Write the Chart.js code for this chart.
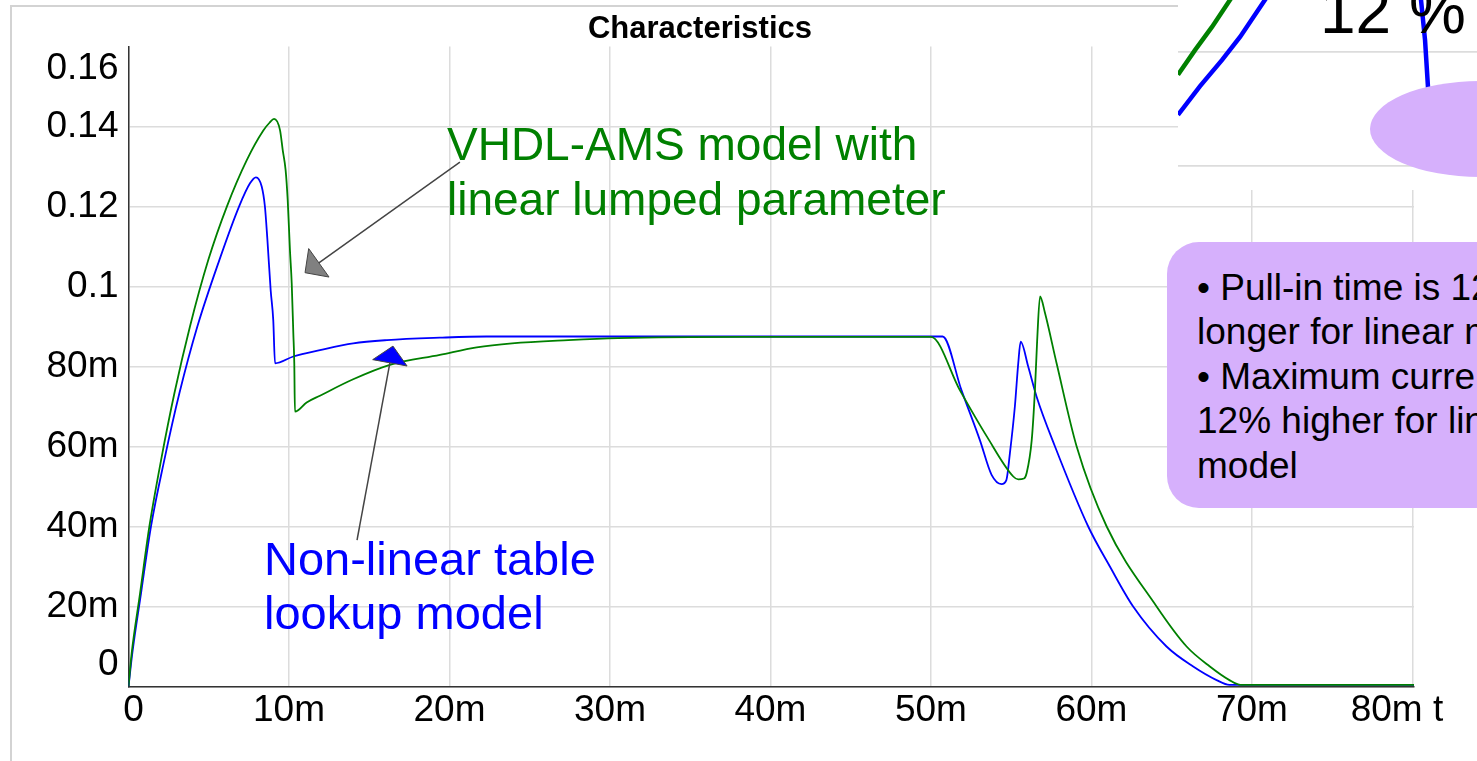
<!DOCTYPE html>
<html>
<head>
<meta charset="utf-8">
<script src="https://cdn.jsdelivr.net/npm/chart.js@4.4.1/dist/chart.umd.min.js"></script>
<style>
  body { margin: 0; width: 1477px; height: 761px; overflow: hidden; background: #fff; position: relative;
         font-family: 'Liberation Sans', Arial, sans-serif; }
  .abs { position: absolute; }
  #frame { left: 10px; top: 5px; width: 1500px; height: 800px; border-left: 2px solid #d3d3d3; border-top: 2px solid #d3d3d3; }
  #main { left: 0; top: 0; }
  #title { left: 0; width: 1400px; top: 12px; text-align: center; font-weight: bold; font-size: 31px; line-height: 31px; color: #000; }
  #greenNote { left: 447px; top: 117px; font-size: 46px; line-height: 55px; color: #008000; white-space: nowrap; }
  #blueNote { left: 264px; top: 532px; font-size: 47px; line-height: 54px; color: #0000ff; white-space: nowrap; }
  #summary { left: 1167px; top: 242px; width: 420px; height: 266px; border-radius: 32px; background: #d6b0fc;
             box-sizing: border-box; padding: 24px 0 0 30px; font-size: 37px; line-height: 44.4px; color: #000; white-space: nowrap; }
  #insetBox { left: 1178px; top: 0; width: 299px; height: 190px; background: #fff; }
  #bigPct { left: 1320px; top: -21px; font-size: 64px; line-height: 64px; color: #000; white-space: nowrap; }
  #blob { left: 1370px; top: 81px; width: 220px; height: 96px; border-radius: 50%; background: #d6b0fc; }
</style>
</head>
<body>
<div id="frame" class="abs"></div>
<canvas id="main" class="abs" width="1477" height="761"></canvas>
<div id="title" class="abs">Characteristics</div>
<div id="greenNote" class="abs">VHDL-AMS model with<br>linear lumped parameter</div>
<div id="blueNote" class="abs">Non-linear table<br>lookup model</div>
<div id="summary" class="abs">• Pull-in time is 12%<br>longer for linear model<br>• Maximum current is<br>12% higher for linear<br>model</div>
<div id="insetBox" class="abs"><canvas id="inset" width="299" height="190"></canvas></div>
<div id="bigPct" class="abs">12 %</div>
<div id="blob" class="abs"></div>

<script>
// time in ms, current in A

// VHDL-AMS model, linear lumped parameter (green)
const greenT = [0, 0.2, 0.72, 1.30, 2.03, 2.86, 3.83, 4.97, 6.14, 7.37,
  8.4, 8.8, 9.07, 9.44, 9.61, 9.79, 9.92, 10.06, 10.17, 10.27,
  10.33, 10.37, 11.1, 11.93, 14.0, 16.29, 19.4, 21.7, 23.9, 27.4,
  30.5, 38.4, 50.0, 51.8, 53.5, 55.13, 55.44, 55.8, 55.96, 56.28,
  56.48, 56.62, 56.8, 57.1, 57.83, 59.08, 60.95, 64.06, 65.93, 67.38,
  68.6, 69.3, 80.1];
const greenI = [0, 0.0084, 0.0233, 0.040, 0.0566, 0.0733, 0.090, 0.1066, 0.1201, 0.1316,
  0.1390, 0.1410, 0.1419, 0.1391, 0.1341, 0.1291, 0.1216, 0.1091, 0.1008, 0.0883,
  0.0808, 0.0687, 0.0710, 0.0727, 0.0768, 0.0804, 0.0829, 0.0848, 0.0858, 0.0866,
  0.0871, 0.0874, 0.0874, 0.0741, 0.0624, 0.0525, 0.0518, 0.0520, 0.0533, 0.0616,
  0.0741, 0.0866, 0.0975, 0.0935, 0.0808, 0.060, 0.040, 0.020, 0.010, 0.005,
  0.0016, 0.0004, 0.0004];

// Non-linear table lookup model (blue)
const blueT = [0, 0.24, 0.78, 1.40, 2.23, 3.17, 4.29, 5.66, 6.90, 7.57,
  7.94, 8.3, 8.5, 8.65, 8.86, 9.02, 9.13, 10.27, 11.93, 14.0,
  16.1, 19.4, 22.3, 50.73, 51.9, 53.05, 53.78, 54.4, 54.7, 54.92,
  55.23, 55.44, 55.59, 56.06, 56.58, 57.73, 59.80, 61.15, 62.6, 64.68,
  66.34, 67.8, 68.6, 80.1];
const blueI = [0, 0.0084, 0.0233, 0.040, 0.0566, 0.0733, 0.090, 0.1066, 0.1201, 0.1258,
  0.1273, 0.1250, 0.1200, 0.1120, 0.0990, 0.0916, 0.0808, 0.0825, 0.0841, 0.0858,
  0.0866, 0.0872, 0.0875, 0.0875, 0.0741, 0.0616, 0.0529, 0.0506, 0.0516, 0.0583,
  0.070, 0.0808, 0.0862, 0.080, 0.0725, 0.060, 0.040, 0.030, 0.020, 0.010,
  0.005, 0.0016, 0.0004, 0.0004];

const timeTicks = [0, 10, 20, 30, 40, 50, 60, 70, 80];

// zoomed inset near the first peak (top right corner)
const insetGreenT = [6.9, 6.991, 7.082, 7.178, 7.232];
const insetGreenI = [0.12750, 0.12804, 0.12855, 0.12914, 0.12945];
const insetBlueT = [6.9, 7.018, 7.135, 7.232, 7.365, 7.419, 8.195, 8.222, 8.238, 8.245];
const insetBlueI = [0.12662, 0.12725, 0.12782, 0.12833, 0.12914, 0.12947, 0.12936, 0.12826, 0.12721, 0.12607];
const insetGridI = [0.1255, 0.128];

// callout arrows: tail and tip in (ms, A)
const calloutArrows = [
  { fromT: 20.65, fromI: 0.1311, toT: 11.0, toI: 0.10345, fill: '#808080' },
  { fromT: 14.24, fromI: 0.0366, toT: 16.48, toI: 0.0851, fill: '#0000ff' }
];

Chart.defaults.font.family = "'Liberation Sans', Arial, sans-serif";
Chart.defaults.color = '#000';

const toPoints = (ts, vs) => ts.map((t, i) => ({ x: t, y: vs[i] }));

function formatCurrent(value) {
  const m = Math.round(value * 1000);
  if (m === 0) return ['0', ''];
  if (m === 160) return ['', '0.16'];
  if (m >= 100) return String(m / 1000);
  return m + 'm';
}

function formatTime(value) {
  if (value === 0) return ' 0';
  if (value === 80) return '80m t   ';
  return value + 'm';
}

const arrowPlugin = {
  id: 'callouts',
  afterDatasetsDraw(chart) {
    const { ctx, scales: { x, y } } = chart;
    calloutArrows.forEach(a => {
      const x0 = x.getPixelForValue(a.fromT), y0 = y.getPixelForValue(a.fromI);
      const x1 = x.getPixelForValue(a.toT), y1 = y.getPixelForValue(a.toI);
      const ang = Math.atan2(y1 - y0, x1 - x0);
      const len = 17, half = 17.5;
      const bx = x1 - len * Math.cos(ang), by = y1 - len * Math.sin(ang);
      ctx.save();
      ctx.strokeStyle = '#444';
      ctx.lineWidth = 1.5;
      ctx.beginPath();
      ctx.moveTo(x0, y0);
      ctx.lineTo(bx, by);
      ctx.stroke();
      ctx.beginPath();
      ctx.moveTo(x1, y1);
      ctx.lineTo(bx + half * Math.sin(ang), by - half * Math.cos(ang));
      ctx.lineTo(bx - half * Math.sin(ang), by + half * Math.cos(ang));
      ctx.closePath();
      ctx.fillStyle = a.fill;
      ctx.fill();
      ctx.lineWidth = 1;
      ctx.stroke();
      ctx.restore();
    });
  }
};

new Chart(document.getElementById('main'), {
  type: 'line',
  data: {
    datasets: [
      {
        label: 'VHDL-AMS model with linear lumped parameter',
        data: toPoints(greenT, greenI),
        borderColor: '#008000',
        borderWidth: 1.8,
        pointRadius: 0,
        cubicInterpolationMode: 'monotone'
      },
      {
        label: 'Non-linear table lookup model',
        data: toPoints(blueT, blueI),
        borderColor: '#0000ff',
        borderWidth: 1.8,
        pointRadius: 0,
        cubicInterpolationMode: 'monotone'
      }
    ]
  },
  options: {
    responsive: false,
    animation: false,
    layout: { padding: { left: 0, top: 46.5, right: 63, bottom: 0 } },
    plugins: { legend: { display: false }, tooltip: { enabled: false } },
    scales: {
      x: {
        type: 'linear',
        min: 0,
        max: 80.1,
        afterBuildTicks: s => { s.ticks = timeTicks.map(v => ({ value: v })); },
        afterFit: s => { s.height = 74.5; },
        ticks: {
          autoSkip: false,
          maxRotation: 0,
          padding: 2,
          font: { size: 37 },
          callback: formatTime
        },
        grid: { color: '#dcdcdc', lineWidth: 1.5, drawTicks: false },
        border: { color: '#333', width: 1.5 }
      },
      y: {
        min: 0,
        max: 0.16,
        afterFit: s => { s.width = 128.5; s.paddingTop = 0; s.paddingBottom = 0; },
        ticks: {
          stepSize: 0.02,
          autoSkip: false,
          padding: 10,
          font: { size: 37 },
          callback: formatCurrent
        },
        grid: {
          color: c => (c.tick && Math.abs(c.tick.value - 0.16) < 1e-6) ? 'rgba(0,0,0,0)' : '#dcdcdc',
          lineWidth: 1.5,
          drawTicks: false
        },
        border: { color: '#333', width: 1.5 }
      }
    }
  },
  plugins: [arrowPlugin]
});

new Chart(document.getElementById('inset'), {
  type: 'line',
  data: {
    datasets: [
      { data: toPoints(insetGreenT, insetGreenI), borderColor: '#008000', borderWidth: 4.5, pointRadius: 0 },
      { data: toPoints(insetBlueT, insetBlueI), borderColor: '#0000ff', borderWidth: 4.5, pointRadius: 0 }
    ]
  },
  options: {
    responsive: false,
    animation: false,
    layout: { padding: 0 },
    plugins: { legend: { display: false }, tooltip: { enabled: false } },
    scales: {
      x: { type: 'linear', display: false, min: 6.9, max: 8.5 },
      y: {
        min: 0.12497,
        max: 0.12914,
        afterFit: s => { s.width = 0; },
        afterBuildTicks: s => { s.ticks = insetGridI.map(v => ({ value: v })); },
        ticks: { display: false },
        grid: { color: '#dcdcdc', lineWidth: 1.8, drawTicks: false },
        border: { display: false }
      }
    }
  }
});
</script>
</body>
</html>
